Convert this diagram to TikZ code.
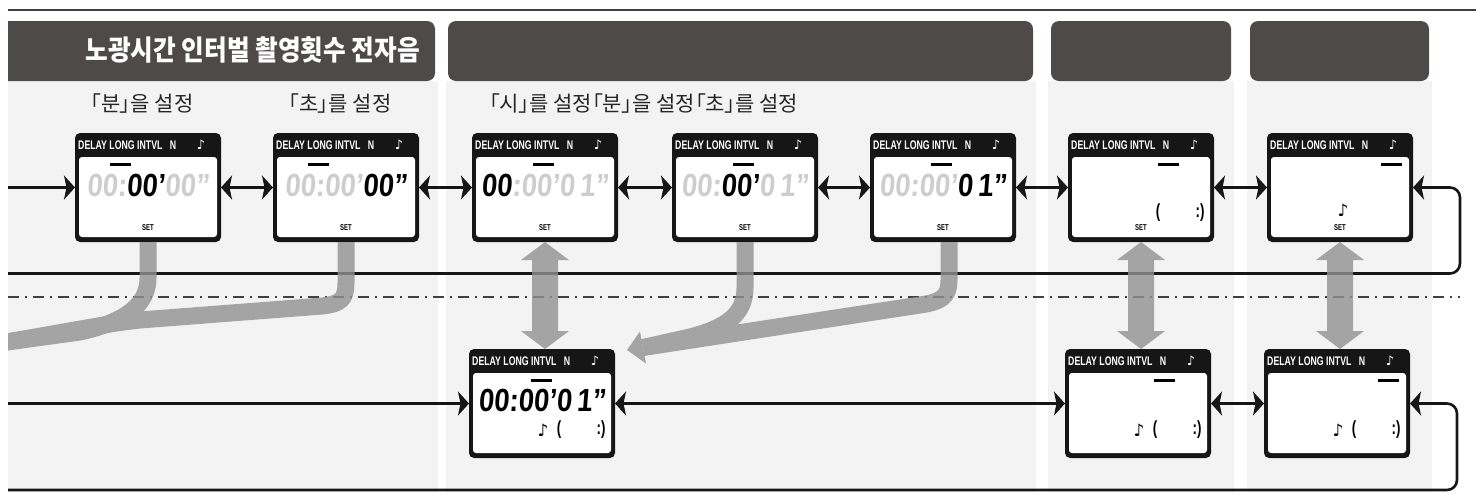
\documentclass[tikz,border=0pt]{standalone}
\usepackage{fontspec}
\setmainfont{Liberation Sans}
\newfontfamily\krh[FakeStretch=0.88]{Noto Sans CJK KR}
\newfontfamily\krl[RawFeature=+palt]{Noto Sans CJK KR}
\newfontfamily\lcdf[FakeStretch=0.7]{Liberation Sans}
\newfontfamily\segf[FakeStretch=0.86,FakeSlant=0.08]{Liberation Sans}
\newfontfamily\symf{DejaVu Sans}
\usetikzlibrary{arrows.meta,calc}
\definecolor{hdr}{RGB}{78,74,74}
\definecolor{panel}{RGB}{243,243,243}
\definecolor{agray}{RGB}{145,145,145}
\definecolor{dim}{RGB}{205,205,205}
\definecolor{lcdblack}{RGB}{22,22,22}
\tikzset{
 lcdframe/.style={fill=lcdblack, rounded corners=5pt, minimum width=146pt, minimum height=109pt, inner sep=0pt, outer sep=0pt},
 lcdtxt/.style={text=white, inner sep=0pt, font=\lcdf\bfseries\fontsize{12.5}{12.5}\selectfont},
 notetxt/.style={text=white, inner sep=0pt, font=\symf\fontsize{13}{13}\selectfont},
 digits/.style={inner sep=0pt, font=\segf\bfseries\fontsize{32}{32}\selectfont},
 settxt/.style={inner sep=0pt, font=\lcdf\bfseries\fontsize{8.5}{8.5}\selectfont},
 cnt/.style={inner sep=0pt, font=\lcdf\bfseries\fontsize{19}{19}\selectfont},
 cntnote/.style={inner sep=0pt, font=\symf\fontsize{17}{17}\selectfont},
 conn/.style={draw=lcdblack, line width=2.6pt},
 band/.style={draw=agray, line width=17pt, line join=round},
 hdrbox/.style={fill=hdr, rounded corners=8pt},
 krlabel/.style={inner sep=0pt, text=black!85, font=\krl\fontsize{21}{21}\selectfont},
}
% name, left x, top y, bar offset
\newcommand\lcd[4]{%
 \node[lcdframe, anchor=north west] (#1) at (#2,#3) {};
 \fill[white, rounded corners=3pt] ([shift={(4,24)}]#1.north west) rectangle ([shift={(-4,-5)}]#1.south east);
 \node[lcdtxt, anchor=west] (#1-hd) at ([shift={(3,12.5)}]#1.north west) {DELAY LONG INTVL};
 \node[lcdtxt] (#1-n) at ([shift={(98,12.5)}]#1.north west) {N};
 \node[notetxt] (#1-nt) at ([shift={(126,12)}]#1.north west) {♪};
 \fill[black] ([shift={(#4,30)}]#1.north west) rectangle ++(21,3);
}
\newcommand\lcdset[1]{\node[settxt] (#1-set) at ([shift={(73,-14)}]#1.south west) {SET};}
\newcommand\lcdcount[2]{%
 \node[cnt] (#1-p1) at ([shift={(90,#2)}]#1.north west) {(};
 \node[cnt] (#1-p2) at ([shift={(132,#2)}]#1.north west) {:)};
}
\newcommand\vdarrow[2]{%
 \fill[agray] let \p1=(#1.south), \p2=(#2.north) in
  (\x1,\y1) -- (\x1+24pt,\y1-18pt) -- (\x1+13pt,\y1-18pt) -- (\x1+13pt,\y2+18pt) -- (\x1+24pt,\y2+18pt) -- (\x1,\y2)
  -- (\x1-24pt,\y2+18pt) -- (\x1-13pt,\y2+18pt) -- (\x1-13pt,\y1-18pt) -- (\x1-24pt,\y1-18pt) -- cycle;
}
\begin{document}
\begin{tikzpicture}[x=1pt,y=-1pt, >={Stealth[length=11pt,width=24pt,inset=2.5pt]}]
\useasboundingbox (0,0) rectangle (1476,496);
\fill[white] (0,0) rectangle (1476,496);
\clip (8,0) rectangle (1476,496);
% panels
\fill[panel] (8,81) rectangle (438,492);
\fill[panel] (446,81) rectangle (1036,492);
\fill[panel] (1048,81) rectangle (1234,492);
\fill[panel] (1247,81) rectangle (1432,492);
% header bars
\fill[hdrbox] (-20,21) rectangle (435,81);
\fill[hdrbox] (448,21) rectangle (1033,81);
\fill[hdrbox] (1051,21) rectangle (1231,81);
\fill[hdrbox] (1250,21) rectangle (1429,81);
\node[anchor=east, text=white, inner sep=0pt, font=\krh\bfseries\fontsize{28}{28}\selectfont] (title) at (420,50) {노광시간 인터벌 촬영횟수 전자음};
% top rule
\draw[line width=1.6pt, draw=black!75] (8,10) -- (1476,10);
% step labels
\node[krlabel] (lab1) at (142,104) {「분」을 설정};
\node[krlabel] (lab2) at (340,104) {「초」를 설정};
\node[krlabel, anchor=west] (lab3) at (489,104) {「시」를 설정「분」을 설정「초」를 설정};
% LCDs
\lcd{t1}{75}{133}{35}
\lcd{t2}{273}{133}{35}
\lcd{t3}{472}{133}{61}
\lcd{t4}{672}{133}{61}
\lcd{t5}{870}{133}{61}
\lcd{t6}{1068}{133}{90}
\lcd{t7}{1267}{133}{114}
\lcd{b3}{469}{349}{62}
\lcd{b6}{1065}{349}{89}
\lcd{b7}{1264}{349}{114}
\foreach \n in {t1,t2,t3,t4,t5,t6,t7}{\lcdset{\n}}
\node[digits] (t1-d) at ([shift={(73,52)}]t1.north west) {{\color{dim}00:}00’{\color{dim}00”}};
\node[digits] (t2-d) at ([shift={(73,52)}]t2.north west) {{\color{dim}00:00’}00”};
\node[digits] (t3-d) at ([shift={(73,52)}]t3.north west) {00{\color{dim}:00’0\kern5pt 1”}};
\node[digits] (t4-d) at ([shift={(73,52)}]t4.north west) {{\color{dim}00:}00’{\color{dim}0\kern5pt 1”}};
\node[digits] (t5-d) at ([shift={(73,52)}]t5.north west) {{\color{dim}00:00’}0\kern5pt 1”};
\node[digits] (b3-d) at ([shift={(73,51)}]b3.north west) {00:00’0\kern5pt 1”};
\lcdcount{t6}{80}
\node[cntnote] (t7-m) at ([shift={(76,77)}]t7.north west) {♪};
\foreach \n in {b3,b6,b7}{%
 \lcdcount{\n}{81}
 \node[cntnote] (\n-m) at ([shift={(74,81)}]\n.north west) {♪};
}
% black connectors
\coordinate (ltop) at (8,187.5);
\coordinate (lbot) at (8,403.5);
\draw[conn,->] (ltop) -- (t1.west);
\draw[conn,<->] (t1.east) -- (t2.west);
\draw[conn,<->] (t2.east) -- (t3.west);
\draw[conn,<->] (t3.east) -- (t4.west);
\draw[conn,<->] (t4.east) -- (t5.west);
\draw[conn,<->] (t5.east) -- (t6.west);
\draw[conn,<->] (t6.east) -- (t7.west);
\draw[conn,->,rounded corners=10pt] (8,273.5) -- (1460,273.5) -- (1460,187.5) -- (t7.east);
\draw[conn,->] (lbot) -- (b3.west);
\draw[conn,<->] (b3.east) -- (b6.west);
\draw[conn,<->] (b6.east) -- (b7.west);
\draw[conn,->,rounded corners=10pt] (8,490) -- (1457,490) -- (1457,403.5) -- (b7.east);
% dash-dot separator
\draw[line width=2pt, draw=black!75, dash pattern=on 11pt off 6pt on 2pt off 6pt] (8,297) -- (1460,297);
% gray arrows
\begin{scope}[transparency group, opacity=0.8]
 \draw[band] (t1.south) -- (148,278) .. controls (148,305) and (125,322) .. (80,332) -- (0,343);
 \draw[band] (t2.south) -- (346,283) .. controls (346,300) and (340,304) .. (322,306) -- (140,320) .. controls (110,323) and (60,333) .. (0,343);
 \draw[band] (t4.south) -- (745,288) .. controls (745,315) and (725,328) .. (690,337) -- (643,347.5);
 \draw[band] ([xshift=6pt]t5.south) -- (949,280) .. controls (949,298) and (940,302) .. (920,305) -- (643,347.5);
 \fill[agray] (627,350) -- (640,331.5) -- (646,363.5) -- cycle;
 \vdarrow{t3}{b3}
 \vdarrow{t6}{b6}
 \vdarrow{t7}{b7}
\end{scope}
\end{tikzpicture}
\end{document}
